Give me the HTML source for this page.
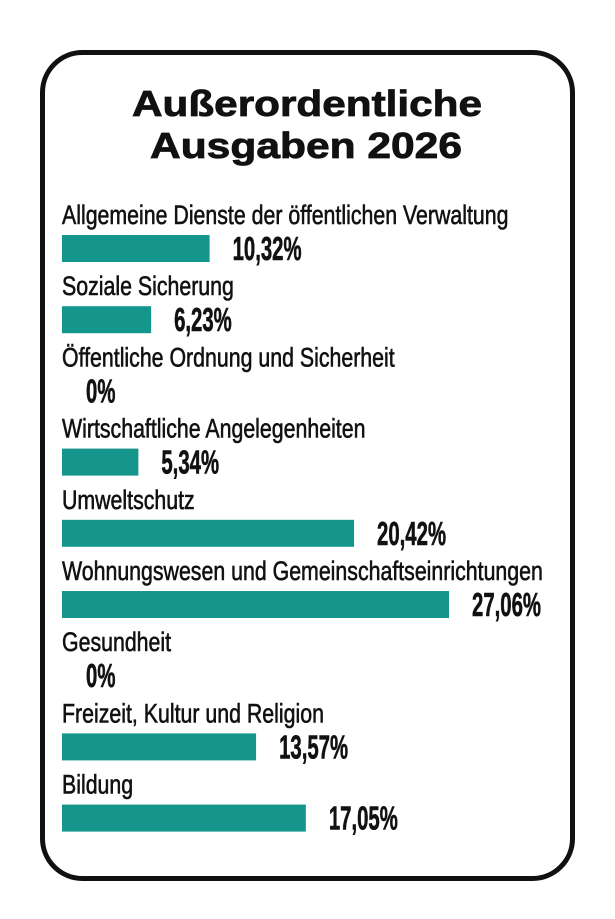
<!DOCTYPE html>
<html><head><meta charset="utf-8"><style>
html,body{margin:0;padding:0;background:#fff;width:615px;height:919px;overflow:hidden}
</style></head><body>
<svg id="chart" width="615" height="919" xmlns="http://www.w3.org/2000/svg">
<rect x="42.5" y="52.5" width="530" height="826" rx="40" ry="40" fill="#fff" stroke="#111" stroke-width="5"/>
<text x="132" y="116" textLength="350" lengthAdjust="spacingAndGlyphs" font-family="'Liberation Sans',sans-serif" font-weight="bold" font-size="36" fill="#111" stroke="#111" stroke-width="0.8">Außerordentliche</text>
<text x="150" y="158" textLength="312" lengthAdjust="spacingAndGlyphs" font-family="'Liberation Sans',sans-serif" font-weight="bold" font-size="36" fill="#111" stroke="#111" stroke-width="0.8">Ausgaben 2026</text>
<g id="rows"></g>
</svg>
<script>
const categories=["Allgemeine Dienste der öffentlichen Verwaltung","Soziale Sicherung","Öffentliche Ordnung und Sicherheit","Wirtschaftliche Angelegenheiten","Umweltschutz","Wohnungswesen und Gemeinschaftseinrichtungen","Gesundheit","Freizeit, Kultur und Religion","Bildung"];
const values=[10.32,6.23,0,5.34,20.42,27.06,0,13.57,17.05];
const valueLabels=["10,32%","6,23%","0%","5,34%","20,42%","27,06%","0%","13,57%","17,05%"];
const NS="http://www.w3.org/2000/svg";
const x0=62, pxPerPct=387/27.06, row0=224, rowStep=71.2;
const xScale=v=>v*pxPerPct;
const yRow=i=>row0+i*rowStep;
const g=document.getElementById('rows');
const labels=[],vals=[];
categories.forEach((c,i)=>{
  const t=document.createElementNS(NS,'text');
  
  
  t.setAttribute('x',x0);t.setAttribute('y',yRow(i));
  t.setAttribute('font-family',"'Liberation Sans Narrow','Liberation Sans',sans-serif");
  t.setAttribute('font-size','27');t.setAttribute('fill','#111');
  t.setAttribute('stroke','#111');t.setAttribute('stroke-width','0.6');
  t.textContent=c;g.appendChild(t);labels.push(t);
  const w=xScale(values[i]);
  if(w>0){
    const r=document.createElementNS(NS,'rect');
    
    
    r.setAttribute('x',x0);r.setAttribute('y',yRow(i)+11);
    r.setAttribute('width',w);r.setAttribute('height',27);
    r.setAttribute('fill','#15968d');g.appendChild(r);
  }
  const v=document.createElementNS(NS,'text');
  
  
  v.setAttribute('x',x0+w+(w>0?23:24));v.setAttribute('y',yRow(i)+36);
  v.setAttribute('font-family',"'Liberation Sans Narrow','Liberation Sans',sans-serif");
  v.setAttribute('font-weight','bold');
  v.setAttribute('font-size','33');v.setAttribute('fill','#111');
  v.setAttribute('stroke','#111');v.setAttribute('stroke-width','0.6');
  v.textContent=valueLabels[i];g.appendChild(v);vals.push(v);
});
try{
  const s=(451/labels[0].getComputedTextLength()+476/labels[5].getComputedTextLength())/2;
  labels.forEach(t=>{const n=t.getComputedTextLength();t.setAttribute('textLength',n*s);t.setAttribute('lengthAdjust','spacingAndGlyphs');});
  const sv=(302-233)/vals[0].getComputedTextLength();
  vals.forEach(t=>{const n=t.getComputedTextLength();t.setAttribute('textLength',n*sv);t.setAttribute('lengthAdjust','spacingAndGlyphs');});
}catch(e){}
</script>
</body></html>
